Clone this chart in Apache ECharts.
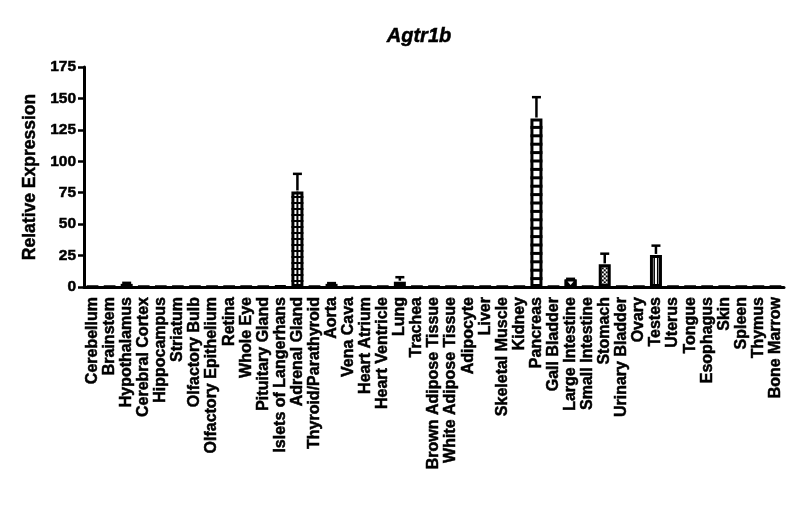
<!DOCTYPE html>
<html>
<head>
<meta charset="utf-8">
<script src="https://cdn.jsdelivr.net/npm/echarts@6/dist/echarts.min.js"></script>
<style>
  html, body { margin: 0; padding: 0; background: #fff; }
  #chart { width: 800px; height: 528px; }
</style>
</head>
<body>
<div id="chart"></div>
<script>
// tissues on the x axis
var tissues = ['Cerebellum', 'Brainstem', 'Hypothalamus', 'Cerebral Cortex', 'Hippocampus',
    'Striatum', 'Olfactory Bulb', 'Olfactory Epithelium', 'Retina', 'Whole Eye',
    'Pituitary Gland', 'Islets of Langerhans', 'Adrenal Gland', 'Thyroid/Parathyroid', 'Aorta',
    'Vena Cava', 'Heart Atrium', 'Heart Ventricle', 'Lung', 'Trachea',
    'Brown Adipose Tissue', 'White Adipose Tissue', 'Adipocyte', 'Liver', 'Skeletal Muscle',
    'Kidney', 'Pancreas', 'Gall Bladder', 'Large Intestine', 'Small Intestine',
    'Stomach', 'Urinary Bladder', 'Ovary', 'Testes', 'Uterus',
    'Tongue', 'Esophagus', 'Skin', 'Spleen', 'Thymus', 'Bone Marrow'];

// mean relative expression
var expression = [0.2, 0.2, 2.5, 0.3, 0.3,
    0.3, 0.3, 0.2, 0.2, 0.2,
    0.3, 0.8, 76, 0.2, 2.5,
    0.2, 0.2, 0.2, 4.2, 0.2,
    0.2, 0.2, 0.2, 0.2, 0.2,
    0.3, 134, 0.2, 6, 0.2,
    18, 0.2, 0.2, 25.5, 0.2,
    0.2, 0.2, 0.2, 0.2, 0.2, 0.2];

// SEM (upper bar only)
var sem = [0, 0, 0.8, 0, 0,
    0, 0, 0, 0, 0,
    0, 0, 14, 0, 0.6,
    0, 0, 0, 3.6, 0,
    0, 0, 0, 0, 0,
    0, 17, 0, 0.5, 0,
    8.5, 0, 0, 7.4, 0,
    0, 0, 0, 0, 0, 0];

// fill style of the bars that are tall enough to show one
var fillStyle = {
    'Adrenal Gland': 'grid',
    'Pancreas': 'ladder',
    'Stomach': 'check',
    'Testes': 'vlines',
    'Large Intestine': 'notch'
};

var font = 'Liberation Sans, Arial, sans-serif';
var heavy = {textBorderColor: '#000', textBorderWidth: 0.5};
var chart = echarts.init(document.getElementById('chart'));

function renderExtras(params, api) {
    var i = api.value(0);
    var v = api.value(1);
    var err = api.value(2);
    var top = api.coord([i, v]);
    var base = api.coord([i, 0]);
    var x = top[0];
    var hw = 6;
    var kids = [];
    var style = fillStyle[tissues[i]];
    var black = {fill: '#000'};

    if (style === 'grid' || style === 'ladder') {
        var step = style === 'grid' ? 6 : 8.4;
        var th = style === 'grid' ? 2 : 3;
        for (var y = base[1] - step; y > top[1] + 2; y -= step) {
            kids.push({type: 'rect', shape: {x: x - hw, y: y - th / 2, width: hw * 2, height: th}, style: black});
        }
        if (style === 'grid') {
            kids.push({type: 'rect', shape: {x: x - 1, y: top[1], width: 2, height: base[1] - top[1]}, style: black});
        }
    } else if (style === 'check') {
        var r = 0;
        for (var yy = top[1] + 1; yy < base[1] - 1; yy += 2, r++) {
            var c = 0;
            for (var xx = x - hw + 1; xx < x + hw - 1; xx += 2, c++) {
                if ((r + c) % 2 === 0) {
                    kids.push({type: 'rect', shape: {x: xx, y: yy, width: 2, height: 2}, style: black});
                }
            }
        }
    } else if (style === 'vlines') {
        kids.push({type: 'rect', shape: {x: x - 2.5, y: top[1], width: 1.5, height: base[1] - top[1]}, style: black});
        kids.push({type: 'rect', shape: {x: x + 1, y: top[1], width: 1.5, height: base[1] - top[1]}, style: black});
    } else if (style === 'notch') {
        kids.push({type: 'rect', shape: {x: x - hw, y: top[1], width: hw * 2, height: base[1] - top[1]}, style: black});
        kids.push({type: 'polygon', shape: {points: [[x - 3, top[1] + 2], [x + 3, top[1] + 2], [x, top[1] + 5.5]]}, style: {fill: '#fff'}});
    }

    if (err > 0) {
        var cap = api.coord([i, v + err]);
        kids.push({type: 'line', shape: {x1: x, y1: top[1] - 1, x2: x, y2: cap[1]}, style: {stroke: '#000', lineWidth: 2.5}});
        kids.push({type: 'line', shape: {x1: x - 4.5, y1: cap[1], x2: x + 4.5, y2: cap[1]}, style: {stroke: '#000', lineWidth: 2.5}});
    }
    return {type: 'group', children: kids};
}

chart.setOption({
    animation: false,
    title: {
        text: 'Agtr1b',
        left: 414,
        top: 21,
        textAlign: 'center',
        textStyle: Object.assign({fontFamily: font, fontSize: 20, fontWeight: 'bold', fontStyle: 'italic', color: '#000'}, heavy)
    },
    grid: {left: 84, right: 16, top: 67, bottom: 241, outerBoundsMode: 'none'},
    xAxis: {
        type: 'category',
        data: tissues,
        axisLine: {lineStyle: {color: '#000', width: 3}},
        axisTick: {alignWithLabel: true, length: 6, lineStyle: {color: '#000', width: 2.5}},
        axisLabel: Object.assign({
            interval: 0,
            rotate: 90,
            margin: 10,
            color: '#000',
            fontFamily: font,
            fontSize: 16,
            fontWeight: 'bold'
        }, heavy)
    },
    yAxis: {
        type: 'value',
        min: 0,
        max: 175,
        interval: 25,
        name: 'Relative Expression',
        nameLocation: 'middle',
        nameGap: 45,
        nameTextStyle: Object.assign({fontFamily: font, fontSize: 17.5, fontWeight: 'bold', color: '#000'}, heavy),
        splitLine: {show: false},
        axisLine: {show: true, lineStyle: {color: '#000', width: 3}},
        axisTick: {show: true, length: 6, lineStyle: {color: '#000', width: 2.5}},
        axisLabel: Object.assign({color: '#000', fontFamily: font, fontSize: 15.5, fontWeight: 'bold', margin: 8}, heavy)
    },
    series: [
        {
            type: 'bar',
            data: expression,
            barWidth: 12,
            itemStyle: {color: '#fff', borderColor: '#000', borderWidth: 3},
            z: 2
        },
        {
            type: 'custom',
            data: tissues.map(function (t, i) { return [i, expression[i], sem[i]]; }),
            renderItem: renderExtras,
            z: 3
        }
    ]
});
</script>
</body>
</html>
